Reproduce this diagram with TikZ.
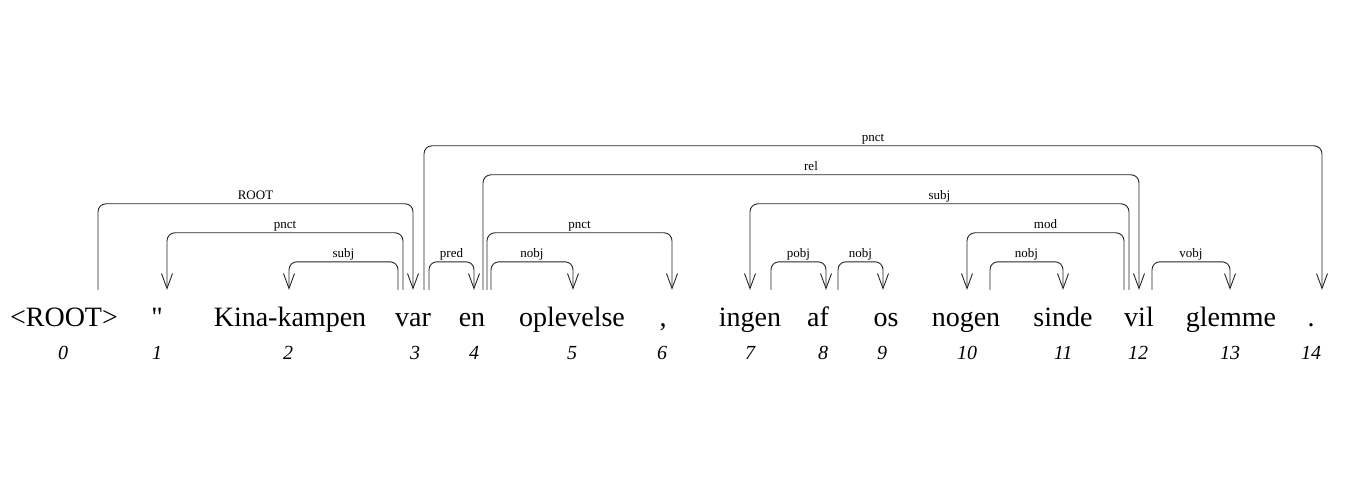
\documentclass[tikz,border=0pt]{standalone}
\usepackage{fontspec}
\setmainfont{Liberation Serif}
\newfontfamily\rawserif{Liberation Serif}[Ligatures=TeXOff]
\usetikzlibrary{arrows.meta}
\begin{document}
\begin{tikzpicture}[x=1pt,y=-1pt,
  word/.style={anchor=base,inner sep=0pt,text height=36pt,text depth=8pt,font=\fontsize{28pt}{30pt}\selectfont},
  idx/.style={anchor=base,inner sep=0pt,font=\fontsize{20pt}{22pt}\selectfont\itshape},
  dep/.style={draw=black!85,line width=0.9pt,rounded corners=8pt,-{Straight Barb[length=15pt,width=11pt,line width=0.9pt]}},
  lab/.style={above,inner sep=1pt,text height=9pt,text depth=3pt,font=\fontsize{13pt}{14pt}\selectfont}]
\useasboundingbox (0,0) rectangle (1364,494);
% words
\node[word] (w0) at (64,326) {<ROOT>};
\node[word] (w1) at (157,326) {\rawserif"};
\node[word] (w2) at (290,326) {Kina-kampen};
\node[word] (w3) at (413,326) {var};
\node[word] (w4) at (472,326) {en};
\node[word] (w5) at (572,326) {oplevelse};
\node[word] (w6) at (663,326) {,};
\node[word] (w7) at (750,326) {ingen};
\node[word] (w8) at (818,326) {af};
\node[word] (w9) at (886,326) {os};
\node[word] (w10) at (966,326) {nogen};
\node[word] (w11) at (1063,326) {sinde};
\node[word] (w12) at (1139,326) {vil};
\node[word] (w13) at (1231,326) {glemme};
\node[word] (w14) at (1311,326) {.};
% indices
\node[idx] (n0) at (63,359) {0};
\node[idx] (n1) at (157,359) {1};
\node[idx] (n2) at (288,359) {2};
\node[idx] (n3) at (415,359) {3};
\node[idx] (n4) at (474,359) {4};
\node[idx] (n5) at (572,359) {5};
\node[idx] (n6) at (662,359) {6};
\node[idx] (n7) at (750,359) {7};
\node[idx] (n8) at (823,359) {8};
\node[idx] (n9) at (882,359) {9};
\node[idx] (n10) at (967,359) {10};
\node[idx] (n11) at (1063,359) {11};
\node[idx] (n12) at (1138,359) {12};
\node[idx] (n13) at (1230,359) {13};
\node[idx] (n14) at (1311,359) {14};
% arcs
\draw[dep] ([xshift=34pt]w0.north) -- ++(0,-86) -| node[lab,pos=0.25] {ROOT} ([xshift=0pt]w3.north);
\draw[dep] ([xshift=-10pt]w3.north) -- ++(0,-57) -| node[lab,pos=0.25] {pnct} ([xshift=10pt]w1.north);
\draw[dep] ([xshift=-15pt]w3.north) -- ++(0,-28) -| node[lab,pos=0.25] {subj} ([xshift=-1pt]w2.north);
\draw[dep] ([xshift=11pt]w3.north) -- ++(0,-144) -| node[lab,pos=0.25] {pnct} ([xshift=11pt]w14.north);
\draw[dep] ([xshift=16pt]w3.north) -- ++(0,-28) -| node[lab,pos=0.25] {pred} ([xshift=2pt]w4.north);
\draw[dep] ([xshift=11pt]w4.north) -- ++(0,-115) -| node[lab,pos=0.25] {rel} ([xshift=0pt]w12.north);
\draw[dep] ([xshift=15pt]w4.north) -- ++(0,-57) -| node[lab,pos=0.25] {pnct} ([xshift=9pt]w6.north);
\draw[dep] ([xshift=19pt]w4.north) -- ++(0,-28) -| node[lab,pos=0.25] {nobj} ([xshift=1pt]w5.north);
\draw[dep] ([xshift=-10pt]w12.north) -- ++(0,-86) -| node[lab,pos=0.25] {subj} ([xshift=0pt]w7.north);
\draw[dep] ([xshift=21pt]w7.north) -- ++(0,-28) -| node[lab,pos=0.25] {pobj} ([xshift=8pt]w8.north);
\draw[dep] ([xshift=20pt]w8.north) -- ++(0,-28) -| node[lab,pos=0.25] {nobj} ([xshift=-3pt]w9.north);
\draw[dep] ([xshift=-15pt]w12.north) -- ++(0,-57) -| node[lab,pos=0.25] {mod} ([xshift=1pt]w10.north);
\draw[dep] ([xshift=24pt]w10.north) -- ++(0,-28) -| node[lab,pos=0.25] {nobj} ([xshift=0pt]w11.north);
\draw[dep] ([xshift=13pt]w12.north) -- ++(0,-28) -| node[lab,pos=0.25] {vobj} ([xshift=-1pt]w13.north);
\end{tikzpicture}
\end{document}
